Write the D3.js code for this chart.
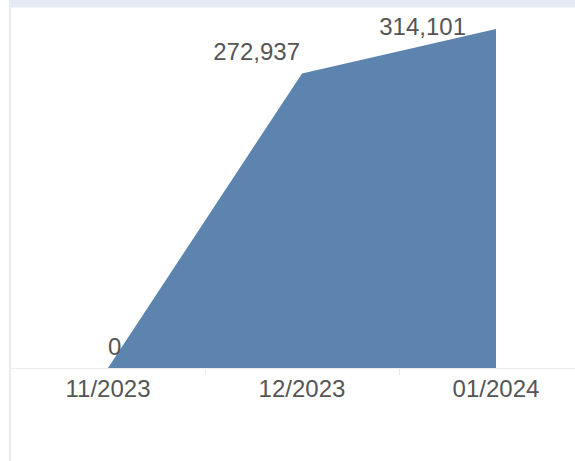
<!DOCTYPE html>
<html>
<head>
<meta charset="utf-8">
<script src="https://cdn.jsdelivr.net/npm/d3@7/dist/d3.min.js"></script>
<style>
  html, body { margin: 0; padding: 0; background: #ffffff; }
  svg { display: block; }
  text { font-family: "Liberation Sans", Arial, sans-serif; }
</style>
</head>
<body>
<div id="chart"></div>
<script>
// ---- data ----
const categories = ["11/2023", "12/2023", "01/2024"];
const values = [0, 272937, 314101];
const valueLabels = ["0", "272,937", "314,101"];

// ---- layout / style ----
const W = 575, H = 461;
const labelStyle = [
  { anchor: "start", dx: 0, dy: -13 },
  { anchor: "end", dx: -2, dy: -13 },
  { anchor: "end", dx: -30, dy: 6 }
];

const svg = d3.select("#chart").append("svg")
  .attr("width", W).attr("height", H);

// top header band
svg.append("rect").attr("x", 9).attr("y", 0).attr("width", W - 9).attr("height", 7.5)
  .attr("fill", "#e3eaf3");

// left pane border
svg.append("rect").attr("x", 9).attr("y", 7.5).attr("width", 2).attr("height", H - 7.5)
  .attr("fill", "#ebebeb");

const x = d3.scaleBand().domain(categories).range([11, 593]).padding(0);
const y = d3.scaleLinear().domain([0, 340000]).range([368, 1]);
const cx = c => x(c) + x.bandwidth() / 2;

const data = categories.map((c, i) => ({ c, v: values[i], label: valueLabels[i], s: labelStyle[i] }));

const area = d3.area()
  .x(d => cx(d.c))
  .y0(y(0))
  .y1(d => y(d.v));

svg.append("path").datum(data)
  .attr("d", area)
  .attr("fill", "#5d84ae");

// axis baseline
svg.append("line").attr("x1", 11).attr("x2", W).attr("y1", 368.5).attr("y2", 368.5)
  .attr("stroke", "#ededed").attr("stroke-width", 1);

// category separators
svg.selectAll(".sep").data(categories.slice(1)).enter().append("line")
  .attr("x1", d => Math.round(x(d)) + 0.5).attr("x2", d => Math.round(x(d)) + 0.5)
  .attr("y1", 369).attr("y2", 375)
  .attr("stroke", "#e8e8e8").attr("stroke-width", 1);

// category labels
svg.selectAll(".cat").data(categories).enter().append("text")
  .attr("x", d => cx(d)).attr("y", 397)
  .attr("text-anchor", "middle")
  .attr("font-size", 24)
  .attr("fill", "#555555")
  .text(d => d);

// value labels
svg.selectAll(".val").data(data).enter().append("text")
  .attr("x", d => cx(d.c) + d.s.dx)
  .attr("y", d => y(d.v) + d.s.dy)
  .attr("text-anchor", d => d.s.anchor)
  .attr("font-size", 24)
  .attr("fill", "#555555")
  .text(d => d.label);
</script>
</body>
</html>
